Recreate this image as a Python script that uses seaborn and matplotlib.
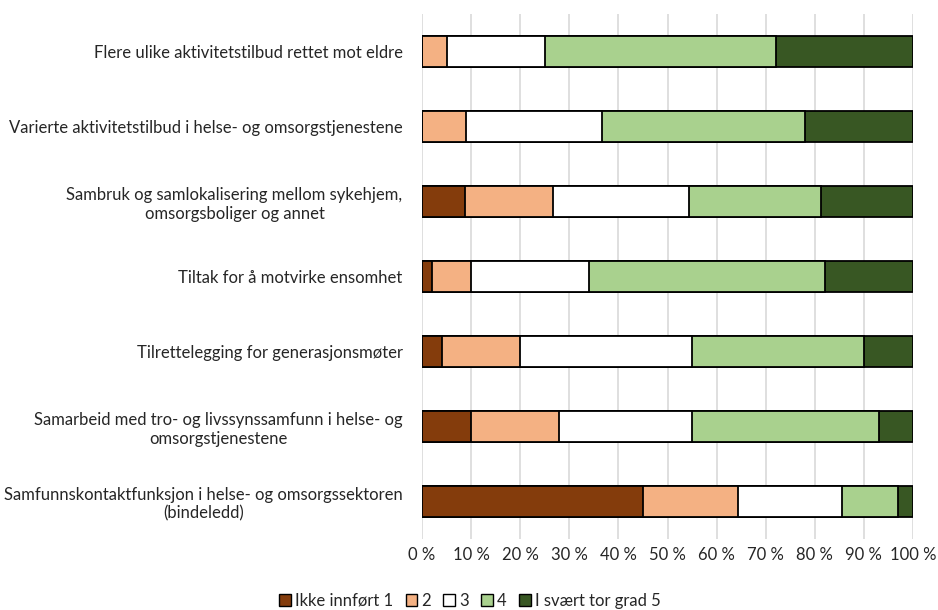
import matplotlib
matplotlib.use("Agg")
import matplotlib.pyplot as plt
import seaborn as sns
import pandas as pd
import numpy as np
from matplotlib.patches import Patch
from matplotlib.ticker import FuncFormatter

categories = [
    "Flere ulike aktivitetstilbud rettet mot eldre",
    "Varierte aktivitetstilbud i helse- og omsorgstjenestene",
    "Sambruk og samlokalisering mellom sykehjem,\nomsorgsboliger og annet",
    "Tiltak for å motvirke ensomhet",
    "Tilrettelegging for generasjonsmøter",
    "Samarbeid med tro- og livssynssamfunn i helse- og\nomsorgstjenestene",
    "Samfunnskontaktfunksjon i helse- og omsorgssektoren\n(bindeledd)",
]
series_names = ["Ikke innført 1", "2", "3", "4", "I svært tor grad 5"]
ikke_innfort_1 = [0, 0, 8.8, 2, 4, 10, 45]
grad_2 = [5, 9, 17.9, 8, 16, 18, 19.3]
grad_3 = [20, 27.6, 27.7, 24, 35, 27, 21.3]
grad_4 = [47, 41.5, 26.8, 48, 35, 38, 11.4]
grad_5 = [28, 21.9, 18.8, 18, 10, 7, 3]
colors = ["#843C0C", "#F4B183", "#FFFFFF", "#A9D18E", "#385723"]

values = np.array([ikke_innfort_1, grad_2, grad_3, grad_4, grad_5])
cumulative = np.cumsum(values, axis=0)

sns.set_theme(style="white")
plt.rcParams["font.family"] = ["Lato", "DejaVu Sans"]

fig = plt.figure(figsize=(9.38, 6.10), dpi=100)
ax = fig.add_axes([422 / 938, 1 - 539 / 610, (913 - 422) / 938, (539 - 14) / 610])

# Stacked bars: draw the running totals from the widest down so each segment shows
for i in range(len(series_names) - 1, -1, -1):
    df = pd.DataFrame({"kategori": categories, "andel": cumulative[i]})
    sns.barplot(data=df, x="andel", y="kategori", orient="h", color=colors[i],
                saturation=1, width=0.41, edgecolor="black", linewidth=1.3,
                ax=ax, zorder=3)

ax.set_xlim(0, 100)
ax.set_ylim(len(categories) - 0.5, -0.5)
ax.set_xticks(np.arange(0, 101, 10))
ax.xaxis.set_major_formatter(FuncFormatter(lambda v, p: f"{int(v)} %"))
ax.grid(axis="x", color="#D9D9D9", linewidth=1.2, zorder=0)
ax.grid(axis="y", visible=False)
for s in ax.spines.values():
    s.set_visible(False)
ax.set_xlabel("")
ax.set_ylabel("")
ax.tick_params(axis="x", labelsize=12, colors="#262626", pad=6, length=0)
ax.tick_params(axis="y", labelsize=12, colors="#262626", pad=14, length=0)
for lbl in ax.get_yticklabels():
    lbl.set_multialignment("center")

handles = [Patch(facecolor=c, edgecolor="black", linewidth=1.0) for c in colors]
fig.legend(handles, series_names, loc="center", bbox_to_anchor=(470 / 938, 1 - 601 / 610),
           ncol=5, frameon=False, fontsize=12, handlelength=0.7, handleheight=0.7,
           handletextpad=0.25, columnspacing=0.75, labelcolor="#262626")

fig.savefig("out.png", dpi=100)
